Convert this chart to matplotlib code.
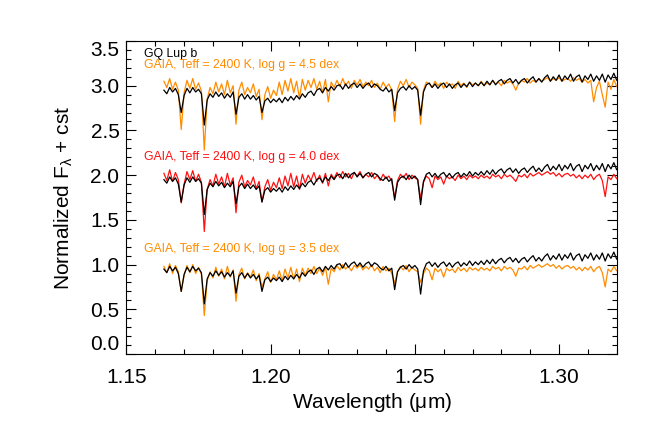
import numpy as np
import matplotlib
matplotlib.use("Agg")
import matplotlib.pyplot as plt

plt.rcParams['font.family'] = ['Liberation Sans', 'DejaVu Sans']
plt.rcParams['mathtext.fontset'] = 'custom'
plt.rcParams['mathtext.rm'] = 'Liberation Sans'
plt.rcParams['mathtext.it'] = 'Liberation Sans'

# ---------------- data ----------------
wl_start, wl_end, n_pts = 1.163, 1.322, 160

gq_lup_b = [
    0.95, 0.91, 0.98, 0.93, 0.97, 0.90, 0.70, 0.89, 0.97, 0.92,
    0.98, 0.93, 0.96, 0.91, 0.56, 0.84, 0.91, 0.87, 0.93, 0.88,
    0.92, 0.86, 0.91, 0.87, 0.93, 0.68, 0.87, 0.91, 0.85, 0.90,
    0.85, 0.89, 0.84, 0.88, 0.70, 0.83, 0.86, 0.81, 0.85, 0.82,
    0.86, 0.81, 0.87, 0.83, 0.88, 0.84, 0.89, 0.85, 0.91, 0.87,
    0.92, 0.94, 0.89, 0.95, 0.97, 0.92, 0.98, 0.94, 0.99, 0.95,
    1.00, 1.01, 0.96, 1.02, 0.97, 1.01, 1.03, 0.98, 1.02, 0.97,
    1.01, 1.03, 0.98, 1.02, 1.00, 0.96, 0.94, 0.98, 0.93, 0.96,
    0.72, 0.92, 0.97, 0.99, 0.95, 1.00, 0.96, 0.99, 0.95, 0.67,
    0.93, 1.01, 1.03, 0.98, 1.02, 0.97, 1.01, 1.03, 0.98, 1.02,
    0.97, 1.01, 1.03, 0.98, 1.02, 0.99, 1.04, 0.99, 1.03, 1.00,
    1.04, 1.00, 1.05, 1.01, 1.06, 1.01, 1.05, 1.07, 1.02, 1.06,
    1.08, 1.03, 1.07, 1.02, 1.06, 1.08, 1.03, 1.07, 1.10, 1.04,
    1.08, 1.04, 1.09, 1.12, 1.05, 1.10, 1.06, 1.12, 1.05, 1.11,
    1.07, 1.13, 1.05, 1.10, 1.12, 1.04, 1.11, 1.07, 1.13, 1.05,
    1.11, 1.06, 1.13, 1.04, 1.12, 1.07, 1.14, 1.06, 1.11, 1.08,
]

gaia_logg45 = [
    1.05, 0.98, 1.08, 0.96, 1.04, 0.95, 0.51, 0.92, 1.06, 0.97,
    1.08, 0.96, 1.03, 0.94, 0.28, 0.85, 0.98, 0.91, 1.04, 0.93,
    1.02, 0.90, 1.06, 0.92, 1.00, 0.57, 0.95, 1.04, 0.90, 0.98,
    0.92, 1.02, 0.88, 0.96, 0.62, 0.90, 0.99, 0.86, 0.95, 0.89,
    1.04, 0.90, 1.06, 0.94, 1.08, 0.92, 1.05, 0.86, 1.07, 0.95,
    1.06, 0.98, 1.08, 0.96, 1.05, 0.92, 1.07, 0.82, 1.04, 0.98,
    1.06, 0.99, 1.08, 1.00, 1.05, 0.97, 1.06, 1.01, 1.07, 0.99,
    1.04, 1.00, 1.06, 0.98, 1.03, 0.96, 1.04, 0.98, 1.02, 0.95,
    0.60, 0.96, 1.05, 1.00, 1.07, 0.98, 1.04, 1.01, 0.97, 0.57,
    0.95, 1.04, 1.02, 0.98, 1.05, 1.00, 1.03, 0.97, 1.04, 1.00,
    1.02, 0.97, 1.05, 1.00, 1.03, 0.98, 1.04, 1.01, 1.03, 1.00,
    1.05, 1.00, 1.03, 1.01, 1.06, 1.02, 1.04, 1.00, 1.06, 1.03,
    1.05, 1.02, 0.95, 1.03, 1.06, 1.04, 1.08, 1.03, 1.06, 1.04,
    1.08, 1.05, 1.07, 1.09, 1.05, 1.08, 1.06, 1.09, 1.05, 1.07,
    1.08, 1.05, 1.09, 1.06, 1.08, 1.04, 1.07, 1.03, 1.06, 0.82,
    0.98, 1.05, 0.90, 0.76, 1.04, 0.96, 1.07, 0.99, 1.05, 1.02,
]

gaia_logg40 = [
    1.02, 0.94, 1.06, 0.93, 1.03, 0.95, 0.69, 0.90, 1.04, 0.95,
    1.05, 0.93, 1.01, 0.92, 0.37, 0.84, 0.95, 0.88, 1.01, 0.90,
    0.98, 0.87, 1.02, 0.89, 0.97, 0.58, 0.92, 1.00, 0.87, 0.94,
    0.89, 0.98, 0.85, 0.93, 0.70, 0.87, 0.95, 0.83, 0.92, 0.86,
    0.97, 0.85, 0.99, 0.88, 1.02, 0.87, 0.99, 0.84, 1.01, 0.91,
    1.00, 0.94, 1.03, 0.93, 1.00, 0.91, 1.02, 0.88, 1.01, 0.96,
    1.03, 0.97, 1.04, 0.98, 1.02, 0.96, 1.03, 0.99, 1.04, 0.97,
    1.01, 0.98, 1.03, 0.96, 1.00, 0.94, 1.01, 0.96, 0.99, 0.93,
    0.75, 0.94, 1.01, 0.97, 1.02, 0.95, 1.00, 0.97, 0.95, 0.74,
    0.92, 0.99, 0.96, 0.86, 0.99, 0.95, 0.98, 0.90, 0.99, 0.96,
    0.98, 0.94, 1.00, 0.96, 0.99, 0.95, 1.00, 0.97, 0.99, 0.96,
    1.00, 0.97, 0.99, 0.96, 1.01, 0.98, 1.00, 0.96, 1.01, 0.98,
    1.00, 0.97, 0.93, 1.00, 0.98, 1.01, 0.97, 1.02, 0.99, 1.01,
    1.03, 1.00, 1.02, 1.04, 1.01, 1.03, 0.99, 1.02, 0.98, 1.01,
    1.02, 0.99, 1.01, 0.97, 1.00, 0.96, 1.00, 0.97, 1.01, 0.95,
    0.99, 1.01, 0.94, 0.76, 0.98, 0.95, 1.01, 0.96, 0.99, 0.97,
]

gaia_logg35 = [
    0.98, 0.91, 1.01, 0.90, 0.99, 0.92, 0.70, 0.88, 0.99, 0.91,
    1.00, 0.90, 0.97, 0.89, 0.43, 0.82, 0.92, 0.85, 0.97, 0.87,
    0.95, 0.84, 0.98, 0.86, 0.94, 0.59, 0.89, 0.96, 0.84, 0.91,
    0.86, 0.94, 0.82, 0.90, 0.75, 0.84, 0.92, 0.80, 0.89, 0.83,
    0.93, 0.82, 0.95, 0.85, 0.97, 0.84, 0.95, 0.81, 0.96, 0.88,
    0.96, 0.90, 0.98, 0.90, 0.96, 0.88, 0.97, 0.78, 0.96, 0.92,
    0.99, 0.94, 1.00, 0.95, 0.98, 0.93, 0.99, 0.96, 1.00, 0.94,
    0.98, 0.95, 1.00, 0.93, 0.97, 0.91, 0.98, 0.93, 0.96, 0.90,
    0.79, 0.92, 0.98, 0.94, 0.99, 0.92, 0.97, 0.94, 0.92, 0.80,
    0.90, 0.96, 0.93, 0.83, 0.96, 0.92, 0.95, 0.86, 0.96, 0.93,
    0.95, 0.91, 0.97, 0.93, 0.96, 0.92, 0.97, 0.94, 0.96, 0.93,
    0.97, 0.94, 0.96, 0.93, 0.98, 0.95, 0.97, 0.93, 0.98, 0.95,
    0.97, 0.94, 0.87, 0.96, 0.95, 0.98, 0.94, 0.99, 0.96, 0.98,
    1.00, 0.97, 0.99, 1.01, 0.98, 1.00, 0.96, 0.99, 0.95, 0.98,
    0.99, 0.96, 0.98, 0.94, 0.97, 0.93, 0.97, 0.94, 0.98, 0.92,
    0.96, 0.98, 0.91, 0.75, 0.95, 0.92, 0.98, 0.93, 0.96, 0.94,
]

offsets = [2.0, 1.0, 0.0]
model_labels = ["GAIA, Teff = 2400 K, log g = 4.5 dex",
                "GAIA, Teff = 2400 K, log g = 4.0 dex",
                "GAIA, Teff = 2400 K, log g = 3.5 dex"]
model_colors = ["#ff8c00", "#ff1010", "#ff8c00"]
label_y = [3.23, 2.20, 1.17]
object_label = "GQ Lup b"
object_label_y = 3.36

xticks = [1.15, 1.20, 1.25, 1.30]
yticks = [0.0, 0.5, 1.0, 1.5, 2.0, 2.5, 3.0, 3.5]

# ---------------- plot ----------------
wl = np.linspace(wl_start, wl_end, n_pts)
obs = np.array(gq_lup_b)
models = [np.array(gaia_logg45), np.array(gaia_logg40), np.array(gaia_logg35)]

fig = plt.figure(figsize=(6.54, 4.36), dpi=100)
ax = fig.add_axes([0.1933, 0.188, 0.7497, 0.718])

for m, off, c in zip(models, offsets, model_colors):
    ax.plot(wl, m + off, color=c, lw=0.9, zorder=2)
    ax.plot(wl, obs + off, color='black', lw=0.9, zorder=3)

ax.text(1.1561, object_label_y, object_label, color='black', fontsize=8.8,
        va='center', ha='left')
for lab, ly, c in zip(model_labels, label_y, model_colors):
    ax.text(1.1561, ly, lab, color=c, fontsize=8.8, va='center', ha='left')

ax.set_xlim(1.15, 1.32)
ax.set_ylim(0.0, 3.5)
ax.set_xticks(xticks)
ax.set_xticklabels([f"{t:.2f}" for t in xticks])
ax.set_yticks(yticks)
ax.set_yticklabels([f"{t:.1f}" for t in yticks])
ax.set_xticks(np.arange(1.15, 1.3201, 0.01), minor=True)
ax.set_yticks(np.arange(0.0, 3.501, 0.1), minor=True)

ax.tick_params(which='both', direction='in', top=True, right=True,
               labelsize=15, width=0.8, colors='black')
ax.tick_params(axis='x', which='major', length=7.2, pad=10)
ax.tick_params(axis='y', which='major', length=7.2, pad=5)
ax.tick_params(which='minor', length=3.6)

ylabs = ax.get_yticklabels()
ylabs[0].set_va('bottom')
ylabs[-1].set_va('top')

for s in ax.spines.values():
    s.set_linewidth(0.8)

ax.set_xlabel(r"Wavelength ($\mathregular{\mu}$m)", fontsize=15, labelpad=3)
ax.set_ylabel(r"Normalized F$_\mathregular{\lambda}$ + cst", fontsize=15, labelpad=11)

fig.savefig("out.png", dpi=100)
